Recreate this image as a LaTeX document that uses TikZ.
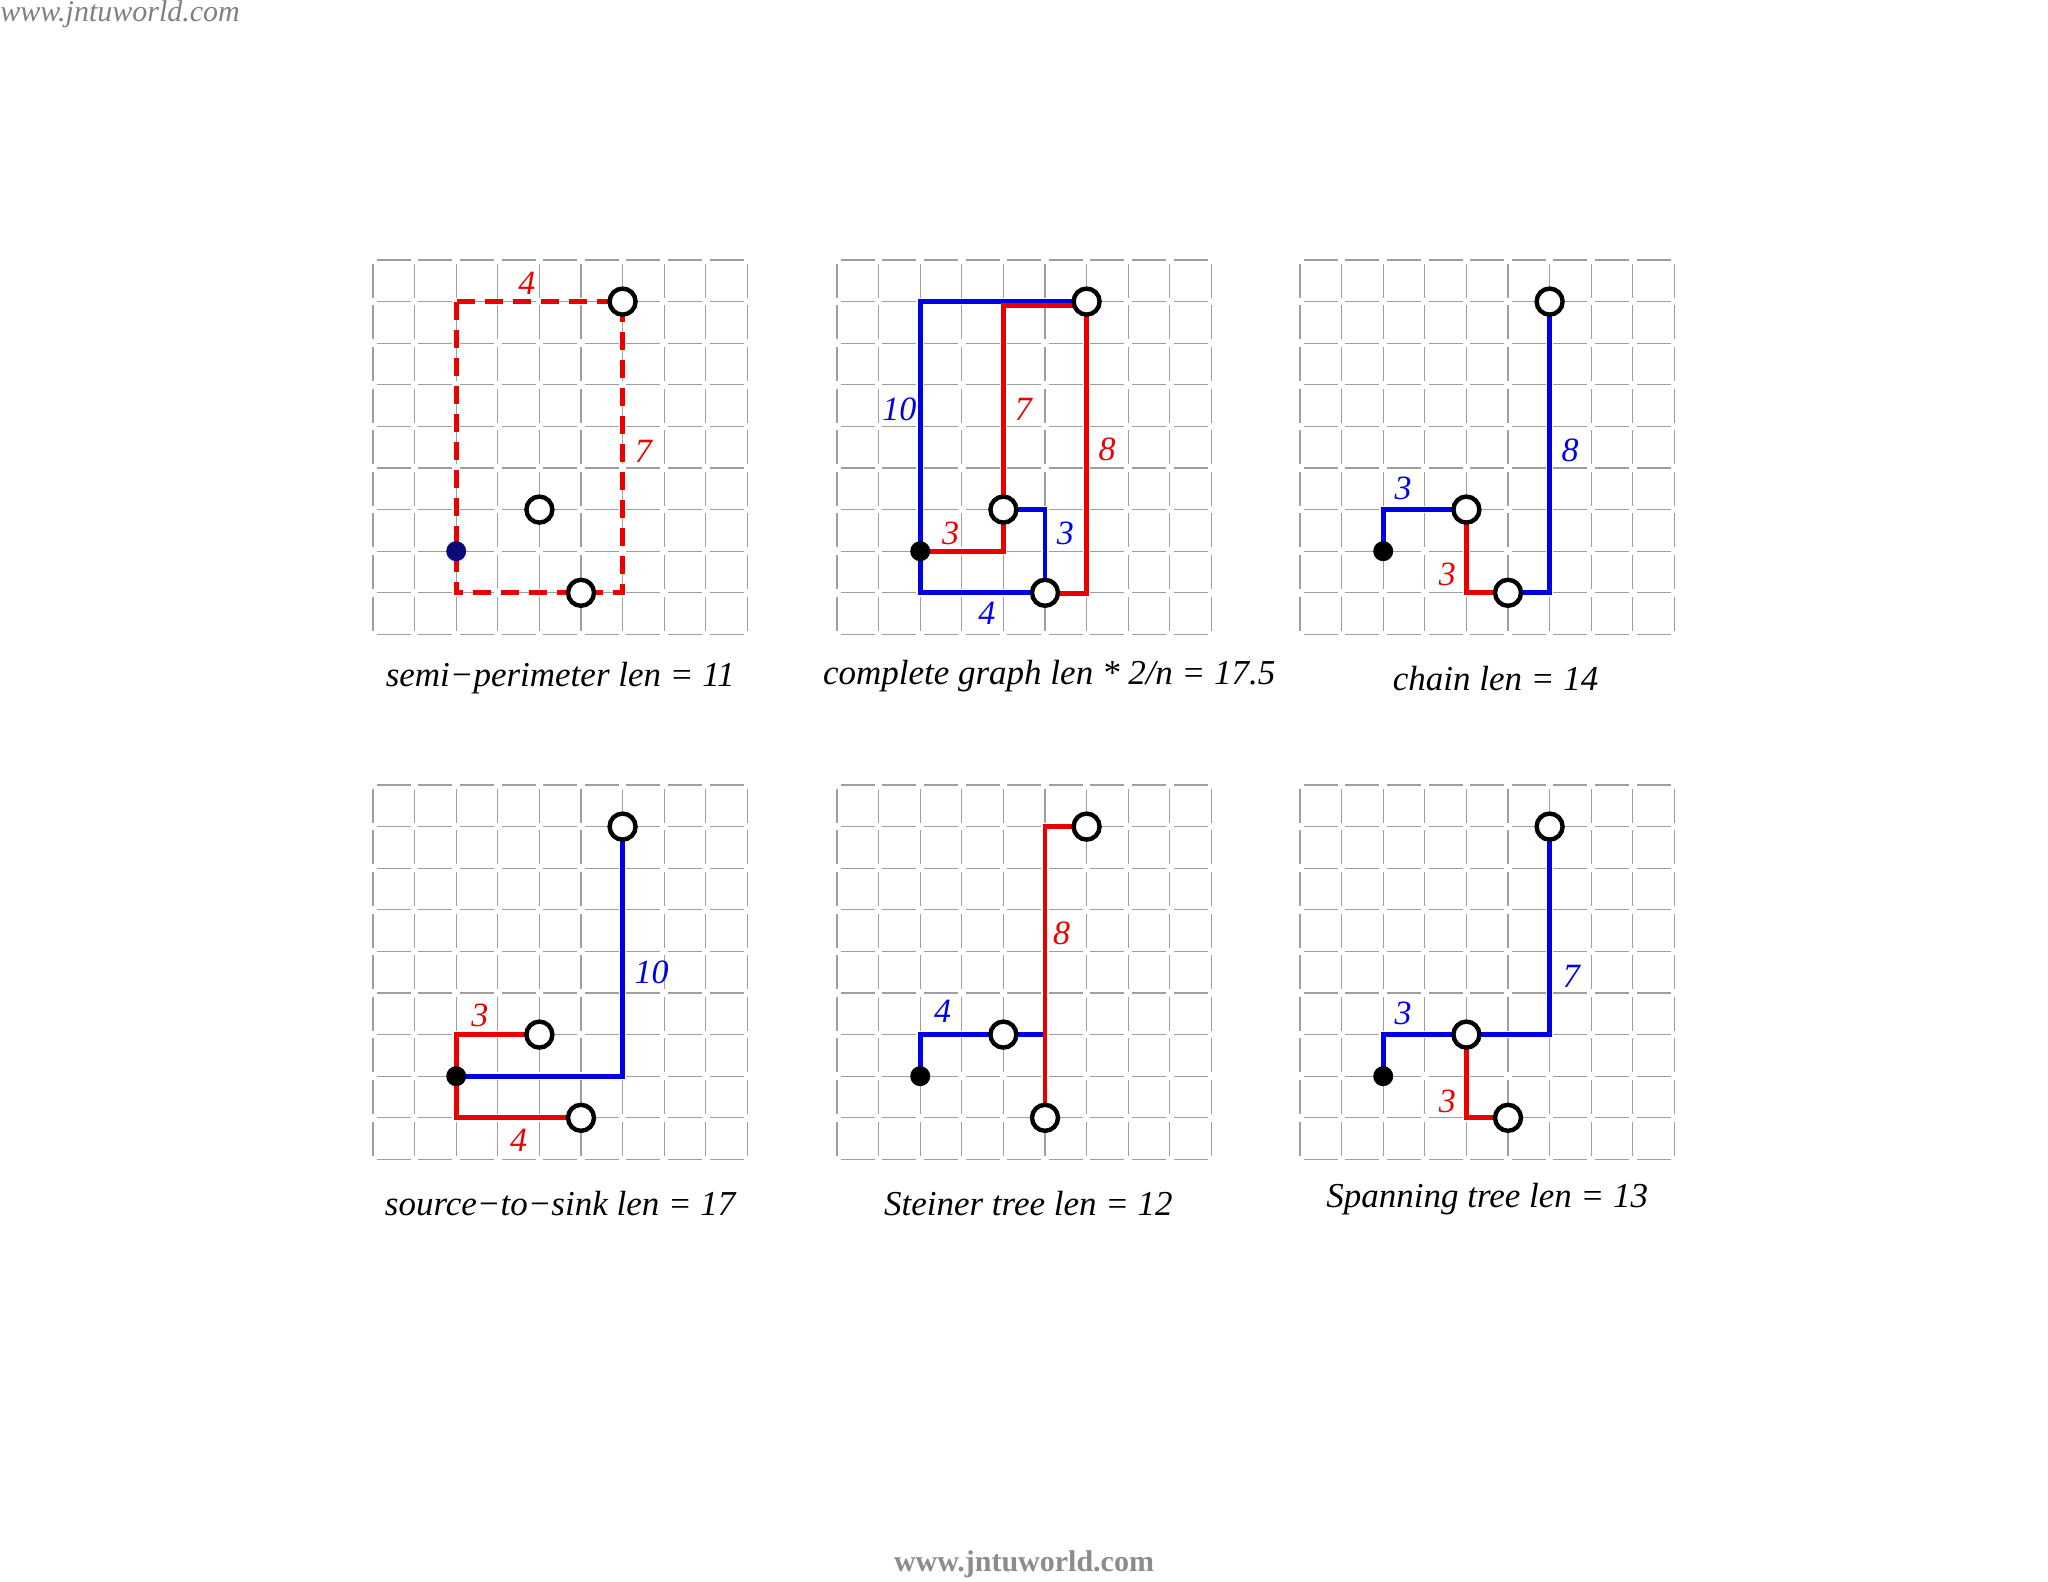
\documentclass[tikz,border=0pt]{standalone}
\usepackage{fontspec}
\setmainfont{Liberation Serif}
\begin{document}
\begin{tikzpicture}[
  gridln/.style={draw=gray!75, line width=0.6pt, dash pattern=on 17pt off 3.8pt, dash phase=18.9pt},
  rl/.style={draw={rgb,255:red,235;green,0;blue,0}, line width=2.4pt},
  bl/.style={draw={rgb,255:red,0;green,0;blue,230}, line width=2.4pt},
  term/.style={circle, draw=black, fill=white, line width=2.2pt, minimum size=13pt, inner sep=0pt},
  src/.style={circle, fill=black, minimum size=10pt, inner sep=0pt},
  rlab/.style={text={rgb,255:red,235;green,0;blue,0}, font=\fontsize{17}{17}\selectfont\itshape},
  blab/.style={text={rgb,255:red,0;green,0;blue,230}, font=\fontsize{17}{17}\selectfont\itshape},
  captxt/.style={font=\fontsize{17.5}{20}\selectfont\itshape}
]
\useasboundingbox (0,0) rectangle (1024pt,-791pt);
\node[anchor=north west, inner sep=0pt, text=gray, font=\fontsize{15}{15}\selectfont\itshape] (wm1) at (0pt,0pt) {www.jntuworld.com};
\node[text=gray!90, font=\fontsize{15}{15}\selectfont\bfseries] (wm2) at (512pt,-782pt) {www.jntuworld.com};

% ---------- panel 1 ----------
\begin{scope}[shift={(186.5pt,-130pt)}, x=20.8pt, y=-20.8pt]
\foreach \i in {0,...,9}{\draw[gridln] (\i,0)--(\i,9); \draw[gridln] (0,\i)--(9,\i);}
\coordinate (s1) at (2,7); \coordinate (a1) at (6,1); \coordinate (b1) at (4,6); \coordinate (c1) at (5,8);
\draw[rl, dash pattern=on 9pt off 5pt] (2,1) rectangle (6,8);
\node[rlab] (l1a) at (3.7,0.56) {4};
\node[rlab] (l1b) at (6.5,4.6) {7};
\node[term] (na1) at (a1) {}; \node[term] (nb1) at (b1) {}; \node[term] (nc1) at (c1) {};
\node[src, fill={rgb,255:red,10;green,10;blue,120}] (ns1) at (s1) {};
\node[captxt] (cap1) at (4.5,10.05) {semi\textminus perimeter len = 11};
\end{scope}

% ---------- panel 2 ----------
\begin{scope}[shift={(418.5pt,-130pt)}, x=20.8pt, y=-20.8pt]
\foreach \i in {0,...,9}{\draw[gridln] (\i,0)--(\i,9); \draw[gridln] (0,\i)--(9,\i);}
\coordinate (s2) at (2,7); \coordinate (a2) at (6,1); \coordinate (b2) at (4,6); \coordinate (c2) at (5,8);
\coordinate (a2r) at (6.02,1.1); \coordinate (c2r) at (5,8.02);
\draw[bl] (s2) |- (a2);
\draw[bl] (s2) |- (c2);
\draw[bl] (b2) -| (c2);
\draw[rl] (s2) -| (b2);
\draw[rl] (b2) |- (a2r);
\draw[rl] (a2) -- (a2 |- c2r) -- (c2r);
\node[blab] (l2a) at (1.5,3.6) {10};
\node[rlab] (l2b) at (4.48,3.6) {7};
\node[rlab] (l2c) at (6.49,4.55) {8};
\node[rlab] (l2d) at (2.73,6.58) {3};
\node[blab] (l2e) at (5.49,6.58) {3};
\node[blab] (l2f) at (3.6,8.5) {4};
\node[term] (na2) at (a2) {}; \node[term] (nb2) at (b2) {}; \node[term] (nc2) at (c2) {};
\node[src] (ns2) at (s2) {};
\node[captxt] (cap2) at (5.1,10.0) {complete graph len * 2/n = 17.5};
\end{scope}

% ---------- panel 3 ----------
\begin{scope}[shift={(650pt,-130pt)}, x=20.8pt, y=-20.8pt]
\foreach \i in {0,...,9}{\draw[gridln] (\i,0)--(\i,9); \draw[gridln] (0,\i)--(9,\i);}
\coordinate (s3) at (2,7); \coordinate (a3) at (6,1); \coordinate (b3) at (4,6); \coordinate (c3) at (5,8);
\draw[bl] (s3) |- (b3);
\draw[rl] (b3) |- (c3);
\draw[bl] (c3) -| (a3);
\node[blab] (l3a) at (2.48,5.5) {3};
\node[rlab] (l3b) at (3.54,7.55) {3};
\node[blab] (l3c) at (6.49,4.58) {8};
\node[term] (na3) at (a3) {}; \node[term] (nb3) at (b3) {}; \node[term] (nc3) at (c3) {};
\node[src] (ns3) at (s3) {};
\node[captxt] (cap3) at (4.7,10.05) {chain len = 14};
\end{scope}

% ---------- panel 4 ----------
\begin{scope}[shift={(186.5pt,-392.5pt)}, x=20.8pt, y=-20.8pt]
\foreach \i in {0,...,9}{\draw[gridln] (\i,0)--(\i,9); \draw[gridln] (0,\i)--(9,\i);}
\coordinate (s4) at (2,7); \coordinate (a4) at (6,1); \coordinate (b4) at (4,6); \coordinate (c4) at (5,8);
\draw[rl] (s4) |- (b4);
\draw[rl] (s4) |- (c4);
\draw[bl] (s4) -| (a4);
\node[rlab] (l4a) at (2.57,5.55) {3};
\node[rlab] (l4b) at (3.5,8.53) {4};
\node[blab] (l4c) at (6.7,4.5) {10};
\node[term] (na4) at (a4) {}; \node[term] (nb4) at (b4) {}; \node[term] (nc4) at (c4) {};
\node[src] (ns4) at (s4) {};
\node[captxt] (cap4) at (4.5,10.05) {source\textminus to\textminus sink len = 17};
\end{scope}

% ---------- panel 5 ----------
\begin{scope}[shift={(418.5pt,-392.5pt)}, x=20.8pt, y=-20.8pt]
\foreach \i in {0,...,9}{\draw[gridln] (\i,0)--(\i,9); \draw[gridln] (0,\i)--(9,\i);}
\coordinate (s5) at (2,7); \coordinate (a5) at (6,1); \coordinate (b5) at (4,6); \coordinate (c5) at (5,8);
\draw[bl] (s5) |- (c5 |- b5);
\draw[rl] (c5) -- (c5 |- a5) -- (a5);
\node[blab] (l5a) at (2.54,5.45) {4};
\node[rlab] (l5b) at (5.4,3.57) {8};
\node[term] (na5) at (a5) {}; \node[term] (nb5) at (b5) {}; \node[term] (nc5) at (c5) {};
\node[src] (ns5) at (s5) {};
\node[captxt] (cap5) at (4.6,10.05) {Steiner tree len = 12};
\end{scope}

% ---------- panel 6 ----------
\begin{scope}[shift={(650pt,-392.5pt)}, x=20.8pt, y=-20.8pt]
\foreach \i in {0,...,9}{\draw[gridln] (\i,0)--(\i,9); \draw[gridln] (0,\i)--(9,\i);}
\coordinate (s6) at (2,7); \coordinate (a6) at (6,1); \coordinate (b6) at (4,6); \coordinate (c6) at (5,8);
\draw[bl] (s6) |- (b6);
\draw[bl] (b6) -| (a6);
\draw[rl] (b6) |- (c6);
\node[blab] (l6a) at (2.48,5.5) {3};
\node[blab] (l6b) at (6.52,4.6) {7};
\node[rlab] (l6c) at (3.54,7.6) {3};
\node[term] (na6) at (a6) {}; \node[term] (nb6) at (b6) {}; \node[term] (nc6) at (c6) {};
\node[src] (ns6) at (s6) {};
\node[captxt] (cap6) at (4.5,9.95) {Spanning tree len = 13};
\end{scope}
\end{tikzpicture}
\end{document}
